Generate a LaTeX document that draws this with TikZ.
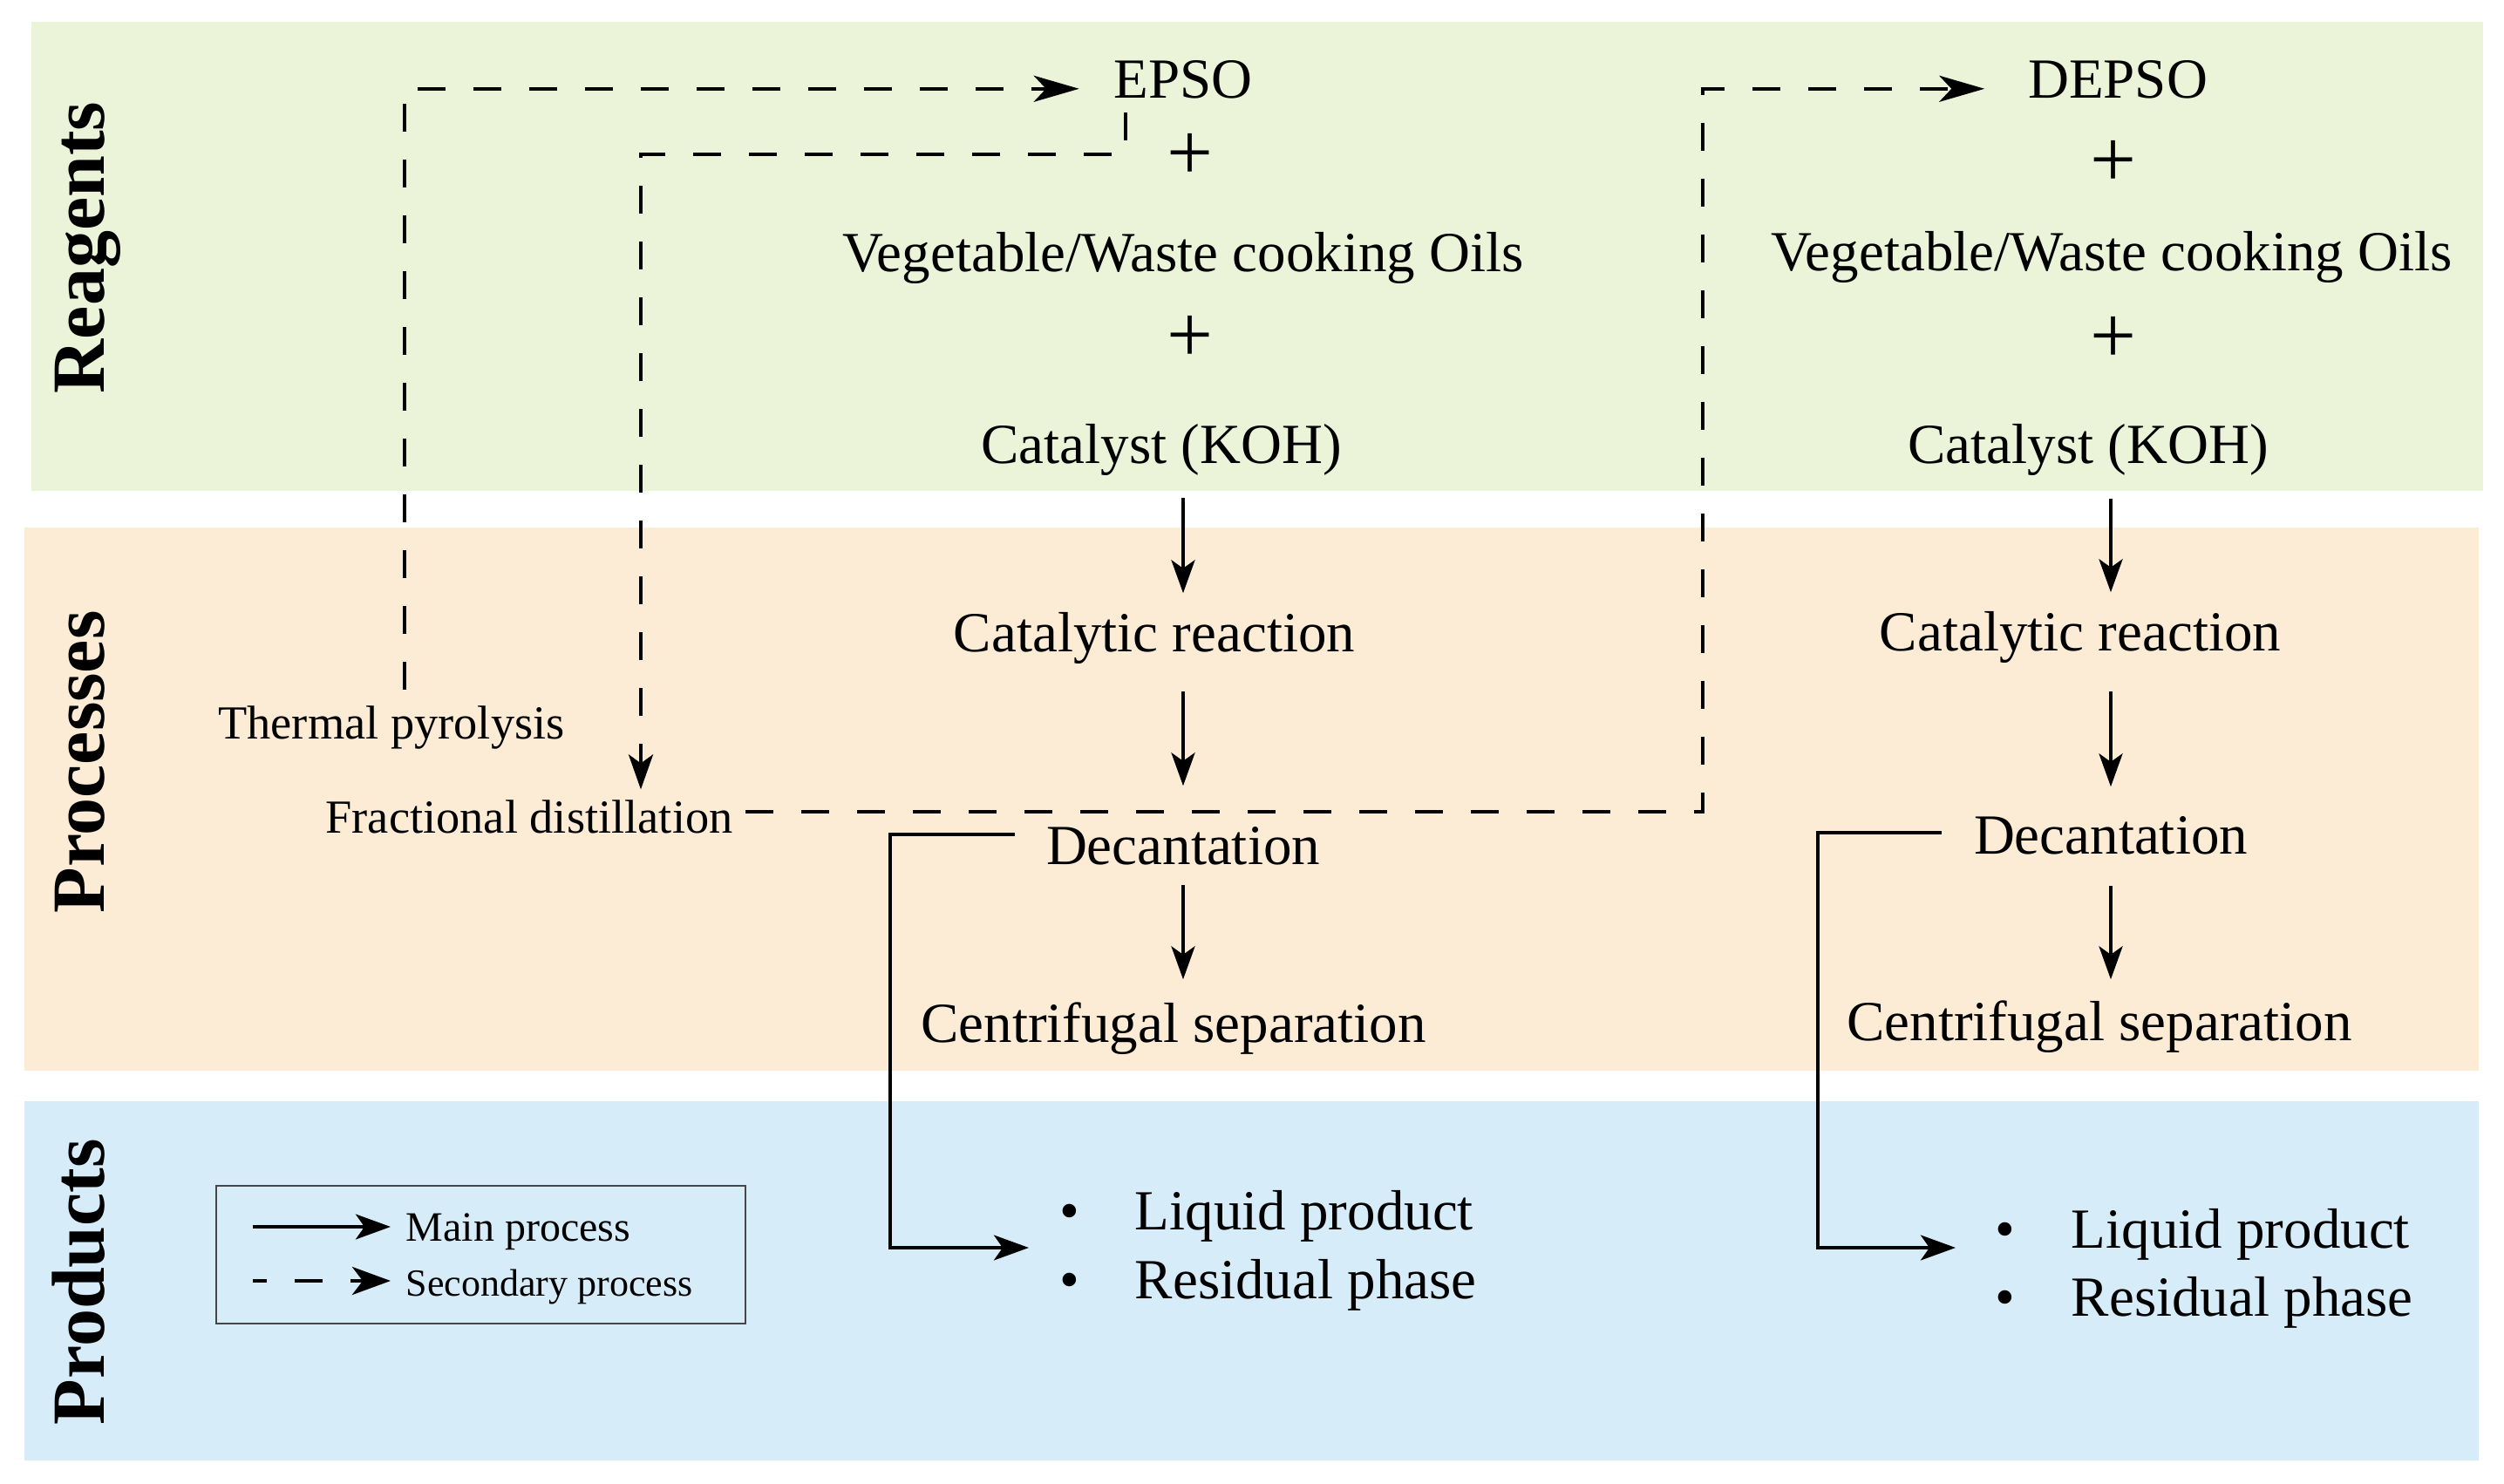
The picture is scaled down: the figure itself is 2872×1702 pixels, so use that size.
\documentclass[tikz,border=0pt]{standalone}
\usepackage{fontspec}
\setmainfont{Liberation Serif}
\usetikzlibrary{arrows.meta}
\definecolor{bandgreen}{RGB}{235,244,216}
\definecolor{bandorange}{RGB}{253,236,213}
\definecolor{bandblue}{RGB}{214,236,248}
\definecolor{legendline}{RGB}{70,70,70}
\begin{document}
\begin{tikzpicture}[x=0.25pt, y=-0.25pt,
  txt/.style={font=\fontsize{16.25}{19.5}\selectfont, inner sep=0pt, text height=12.2pt, text depth=4.1pt, anchor=base},
  smalltxt/.style={font=\fontsize{13.6}{16}\selectfont, inner sep=0pt, text height=10.2pt, text depth=3.4pt, anchor=base},
  plustxt/.style={font=\fontsize{23.5}{28}\selectfont, inner sep=0pt},
  bandlabel/.style={font=\bfseries\fontsize{21.5}{26}\selectfont, inner sep=0pt, rotate=90, anchor=base},
  mainarr/.style={line width=0.8pt, -{Stealth[length=9.5pt, width=6.8pt, inset=2.4pt]}},
  bracketarr/.style={line width=1pt, -{Stealth[length=10pt, width=7.2pt, inset=2.5pt]}},
  secarr/.style={line width=1.1pt, dash pattern=on 8pt off 8pt, -{Stealth[length=10pt, width=7pt, inset=2.5pt]}},
  bigsecarr/.style={line width=1.1pt, dash pattern=on 8pt off 8pt, -{Stealth[length=13pt, width=7.5pt, inset=3.5pt]}},
]
\useasboundingbox (0,0) rectangle (2872,1702);
% bands
\fill[bandgreen] (36,25) rectangle (2848,563);
\fill[bandorange] (28,605) rectangle (2843,1228);
\fill[bandblue] (28,1263) rectangle (2843,1675);

% band labels
\node[bandlabel] (lblR) at (120,284) {Reagents};
\node[bandlabel] (lblP) at (120,874) {Processes};
\node[bandlabel] (lblD) at (120,1470) {Products};

% left column
\node[txt] (epso) at (1357,112) {EPSO};
\node[plustxt] (plusLa) at (1365,180) {+};
\node[txt] (vegL) at (1357,311) {Vegetable/Waste cooking Oils};
\node[plustxt] (plusLb) at (1365,389) {+};
\node[txt] (catL) at (1332,531) {Catalyst (KOH)};
\node[txt] (crL) at (1324,747) {Catalytic reaction};
\node[txt] (decL) at (1357,991) {Decantation};
\node[txt] (cenL) at (1346,1195) {Centrifugal separation};
\node[txt] (bulLa) at (1227,1410) {\textbullet};
\node[txt, anchor=base west] (itLa) at (1301,1410) {Liquid product};
\node[txt] (bulLb) at (1227,1489) {\textbullet};
\node[txt, anchor=base west] (itLb) at (1301,1489) {Residual phase};

\node[smalltxt] (thp) at (449,847) {Thermal pyrolysis};
\node[smalltxt] (frac) at (607,955) {Fractional distillation};

% right column
\node[txt] (depso) at (2429,112) {DEPSO};
\node[plustxt] (plusRa) at (2424,188) {+};
\node[txt] (vegR) at (2422,310) {Vegetable/Waste cooking Oils};
\node[plustxt] (plusRb) at (2424,390) {+};
\node[txt] (catR) at (2395,531) {Catalyst (KOH)};
\node[txt] (crR) at (2386,746) {Catalytic reaction};
\node[txt] (decR) at (2421,979) {Decantation};
\node[txt] (cenR) at (2408,1193) {Centrifugal separation};
\node[txt] (bulRa) at (2300,1431) {\textbullet};
\node[txt, anchor=base west] (itRa) at (2375,1431) {Liquid product};
\node[txt] (bulRb) at (2300,1509) {\textbullet};
\node[txt, anchor=base west] (itRb) at (2375,1509) {Residual phase};

% main arrows left
\draw[mainarr, shorten <=5.7pt, shorten >=4.3pt] (catL.south -| decL.base) -- (crL.north -| decL.base);
\draw[mainarr, shorten <=7.2pt, shorten >=10.05pt] (crL.south -| decL.base) -- (decL.north);
\draw[mainarr, shorten <=1.7pt, shorten >=5.55pt] (decL.south) -- (cenL.north -| decL.base);
% main arrows right
\draw[mainarr, shorten <=5.95pt, shorten >=4.3pt] (catR.south -| decR.base) -- (crR.north -| decR.base);
\draw[mainarr, shorten <=7.45pt, shorten >=6.8pt] (crR.south -| decR.base) -- (decR.north);
\draw[mainarr, shorten <=4.95pt, shorten >=5.05pt] (decR.south) -- (cenR.north -| decR.base);

% decantation brackets
\draw[bracketarr] ([xshift=-8.75pt, yshift=4.5pt]decL.west) -- ++(-143,0) |- ([xshift=-11.75pt, yshift=-5.25pt]bulLa.base);
\draw[bracketarr] ([xshift=-9pt, yshift=2pt]decR.west) -- ++(-142,0) |- ([xshift=-14.25pt]bulRa.base);

% secondary (dashed) paths
\draw[bigsecarr, shorten <=3.55pt, shorten >=9.75pt] ([xshift=3.75pt]thp.north) |- ([yshift=-1.5pt]epso.west);
\draw[secarr, shorten >=2pt] ([xshift=-16.5pt]epso.south) -- ++(0,48) -| ([xshift=32pt]frac.north);
\draw[bigsecarr, shorten <=3.5pt, shorten >=12.25pt] ([yshift=2.6pt]frac.east) -- ++(1112,0) |- ([yshift=-1.5pt]depso.west);

% legend
\node[draw=legendline, line width=0.6pt, minimum width=151.75pt, minimum height=39.5pt, inner sep=0pt] (legend) at (551.5,1439) {};
\node[font=\fontsize{12}{14}\selectfont, inner sep=0pt, anchor=base west] (lgmain) at (465,1423) {Main process};
\node[font=\fontsize{11}{13}\selectfont, inner sep=0pt, anchor=base west] (lgsec) at (465,1486) {Secondary process};
\coordinate (lgm0) at (290,1407);
\coordinate (lgs0) at (290,1469);
\draw[bracketarr, shorten >=4.25pt] (lgm0) -- (lgm0 -| lgmain.west);
\draw[secarr, dash phase=4pt, shorten >=4.25pt, -{Stealth[length=11pt, width=8pt, inset=3pt]}] (lgs0) -- (lgs0 -| lgsec.west);
\end{tikzpicture}
\end{document}
